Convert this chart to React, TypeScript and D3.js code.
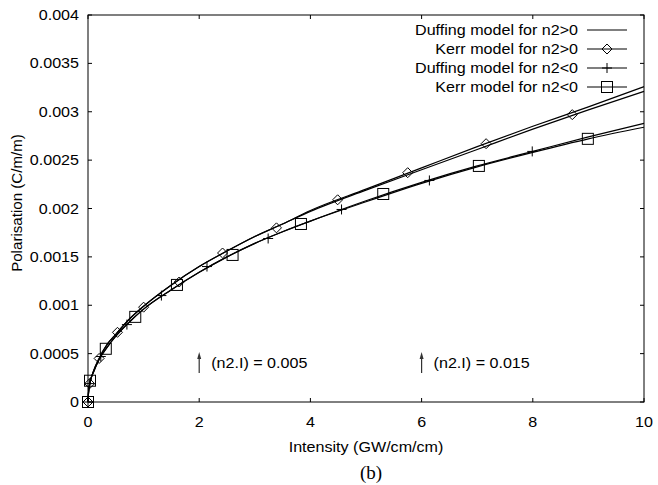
import React from "react";
import * as d3 from "d3";

// Intensity grid (GW/cm/cm) for the curves
const intensityGrid = [0, 0.01, 0.04, 0.1, 0.2, 0.35, 0.5, 0.75, 1, 1.5, 2, 2.5, 3, 3.5, 4, 5, 6, 7, 8, 9, 10];
// Polarisation values (C/m/m)
const duffingPos = [0, 0.0001, 0.00021, 0.00032, 0.00045, 0.0006, 0.0007, 0.00086, 0.00099, 0.00121, 0.0014, 0.00156, 0.00171, 0.00184, 0.00198, 0.0022, 0.00242, 0.00264, 0.00285, 0.00305, 0.00326];
const kerrPos = [0, 0.0001, 0.00021, 0.00032, 0.00045, 0.0006, 0.0007, 0.00086, 0.00099, 0.00121, 0.0014, 0.00156, 0.00171, 0.00184, 0.00197, 0.00219, 0.0024, 0.00261, 0.00282, 0.00302, 0.00321];
const duffingNeg = [0, 0.0001, 0.00021, 0.00031, 0.00044, 0.00057, 0.00068, 0.00083, 0.00096, 0.00116, 0.00134, 0.0015, 0.00164, 0.00176, 0.00187, 0.00208, 0.00227, 0.00244, 0.00259, 0.00274, 0.00288];
const kerrNeg = [0, 0.0001, 0.00021, 0.00031, 0.00044, 0.00057, 0.00068, 0.00083, 0.00096, 0.00116, 0.00134, 0.0015, 0.00164, 0.00176, 0.00187, 0.00207, 0.00226, 0.00243, 0.00258, 0.00272, 0.00284];

// Marker sample points
const kerrPosMarkI = [0, 0.03, 0.2, 0.53, 1.0, 1.64, 2.42, 3.39, 4.49, 5.75, 7.16, 8.71];
const kerrPosMarkP = [0, 0.00019, 0.00045, 0.00072, 0.00098, 0.00124, 0.00154, 0.0018, 0.00209, 0.00237, 0.00267, 0.00297];
const duffNegMarkI = [0, 0.03, 0.23, 0.7, 1.32, 2.14, 3.24, 4.56, 6.14, 7.99];
const duffNegMarkP = [0, 0.00019, 0.00047, 0.0008, 0.0011, 0.0014, 0.00169, 0.00199, 0.00229, 0.00259];
const kerrNegMarkI = [0, 0.036, 0.32, 0.85, 1.6, 2.6, 3.83, 5.31, 7.03, 8.99];
const kerrNegMarkP = [0, 0.00022, 0.00055, 0.00088, 0.00121, 0.00152, 0.00184, 0.00215, 0.00244, 0.00272];

const xTicks = [0, 2, 4, 6, 8, 10];
const yTicks = [0, 0.0005, 0.001, 0.0015, 0.002, 0.0025, 0.003, 0.0035, 0.004];
const yTickLabels = ["0", "0.0005", "0.001", "0.0015", "0.002", "0.0025", "0.003", "0.0035", "0.004"];
const legendLabels = ["Duffing model for n2>0", "Kerr model for n2>0", "Duffing model for n2<0", "Kerr model for n2<0"];
const annotationI = [2, 6];
const annotationLabels = ["(n2.I) = 0.005", "(n2.I) = 0.015"];

const W = 658, H = 485;
const L = 88, R = 644, T = 15, B = 402;
const FONT = "'Liberation Sans', Arial, Helvetica, sans-serif";
const SX = 1.15;

function Txt({ x, y, children, anchor = "start", rotate = 0, sx = SX, size = 14, family = FONT, baseline = "auto" }: any) {
  return (
    <text
      transform={`translate(${x},${y}) rotate(${rotate}) scale(${sx},1)`}
      textAnchor={anchor}
      dominantBaseline={baseline}
      fontFamily={family}
      fontSize={size}
      fill="#000"
    >
      {children}
    </text>
  );
}

function Marker({ type, x, y }: { type: string; x: number; y: number }) {
  if (type === "diamond") {
    const s = 5;
    return <path d={`M${x},${y - s}L${x + s},${y}L${x},${y + s}L${x - s},${y}Z`} fill="none" stroke="#000" strokeWidth={1} />;
  }
  if (type === "plus") {
    const s = 5;
    return <path d={`M${x - s},${y}H${x + s}M${x},${y - s}V${y + s}`} fill="none" stroke="#000" strokeWidth={1} />;
  }
  if (type === "square") {
    const s = 5.5;
    return <rect x={x - s} y={y - s} width={2 * s} height={2 * s} fill="none" stroke="#000" strokeWidth={1} />;
  }
  return null;
}

export default function App() {
  const x = d3.scaleLinear().domain([0, 10]).range([L, R]);
  const y = d3.scaleLinear().domain([0, 0.004]).range([B, T]);
  const line = d3
    .line<[number, number]>()
    .x((d) => x(d[0]))
    .y((d) => y(d[1]))
    .curve(d3.curveMonotoneX);
  const zipI = (vals: number[]) => intensityGrid.map((v, i) => [v, vals[i]] as [number, number]);

  const series = [
    { vals: duffingPos, marker: "none", mI: [] as number[], mP: [] as number[] },
    { vals: kerrPos, marker: "diamond", mI: kerrPosMarkI, mP: kerrPosMarkP },
    { vals: duffingNeg, marker: "plus", mI: duffNegMarkI, mP: duffNegMarkP },
    { vals: kerrNeg, marker: "square", mI: kerrNegMarkI, mP: kerrNegMarkP },
  ];

  const tick = 4;
  const legendY0 = 30, legendDy = 19;
  const legTextX = 578, legL0 = 587, legL1 = 627;

  return (
    <svg width={W} height={H} style={{ position: "absolute", left: 0, top: 0, background: "#fff" }}>
      <rect x={0} y={0} width={W} height={H} fill="#fff" />
      {/* ticks */}
      {xTicks.map((t) => (
        <g key={"xt" + t}>
          <line x1={x(t)} x2={x(t)} y1={B} y2={B - tick} stroke="#000" />
          <line x1={x(t)} x2={x(t)} y1={T} y2={T + tick} stroke="#000" />
          <Txt x={x(t)} y={427} anchor="middle">{String(t)}</Txt>
        </g>
      ))}
      {yTicks.map((t, i) => (
        <g key={"yt" + t}>
          <line x1={L} x2={L + tick} y1={y(t)} y2={y(t)} stroke="#000" />
          <line x1={R} x2={R - tick} y1={y(t)} y2={y(t)} stroke="#000" />
          <Txt x={79} y={y(t) + 5} anchor="end">{yTickLabels[i]}</Txt>
        </g>
      ))}
      {/* curves */}
      {series.map((s, i) => (
        <path key={"c" + i} d={line(zipI(s.vals)) || ""} fill="none" stroke="#000" strokeWidth={1.2} />
      ))}
      {series.map((s, i) =>
        s.mI.map((v, j) => <Marker key={`m${i}-${j}`} type={s.marker} x={x(v)} y={y(s.mP[j])} />)
      )}
      {/* annotations */}
      {annotationI.map((a, i) => (
        <g key={"an" + i}>
          <line x1={x(a)} x2={x(a)} y1={373} y2={357} stroke="#333" strokeWidth={1.2} />
          <path d={`M${x(a)},${352}L${x(a) + 2},${359}L${x(a) - 2},${359}Z`} fill="#333" />
          <Txt x={x(a) + 12} y={368}>{annotationLabels[i]}</Txt>
        </g>
      ))}
      {/* legend */}
      {series.map((s, i) => {
        const ly = legendY0 + i * legendDy;
        return (
          <g key={"lg" + i}>
            <Txt x={legTextX} y={ly + 5} anchor="end">{legendLabels[i]}</Txt>
            <line x1={legL0} x2={legL1} y1={ly} y2={ly} stroke="#000" strokeWidth={1.2} />
            <Marker type={s.marker} x={(legL0 + legL1) / 2} y={ly} />
          </g>
        );
      })}
      {/* frame */}
      <rect x={L} y={T} width={R - L} height={B - T} fill="none" stroke="#000" strokeWidth={1} />
      {/* axis titles */}
      <Txt x={(L + R) / 2} y={452} anchor="middle">Intensity (GW/cm/cm)</Txt>
      <Txt x={22} y={203} anchor="middle" rotate={-90} sx={1.08}>Polarisation (C/m/m)</Txt>
      <Txt x={371} y={479} anchor="middle" sx={1} size={19} family="'Liberation Serif', 'Times New Roman', serif">(b)</Txt>
    </svg>
  );
}
